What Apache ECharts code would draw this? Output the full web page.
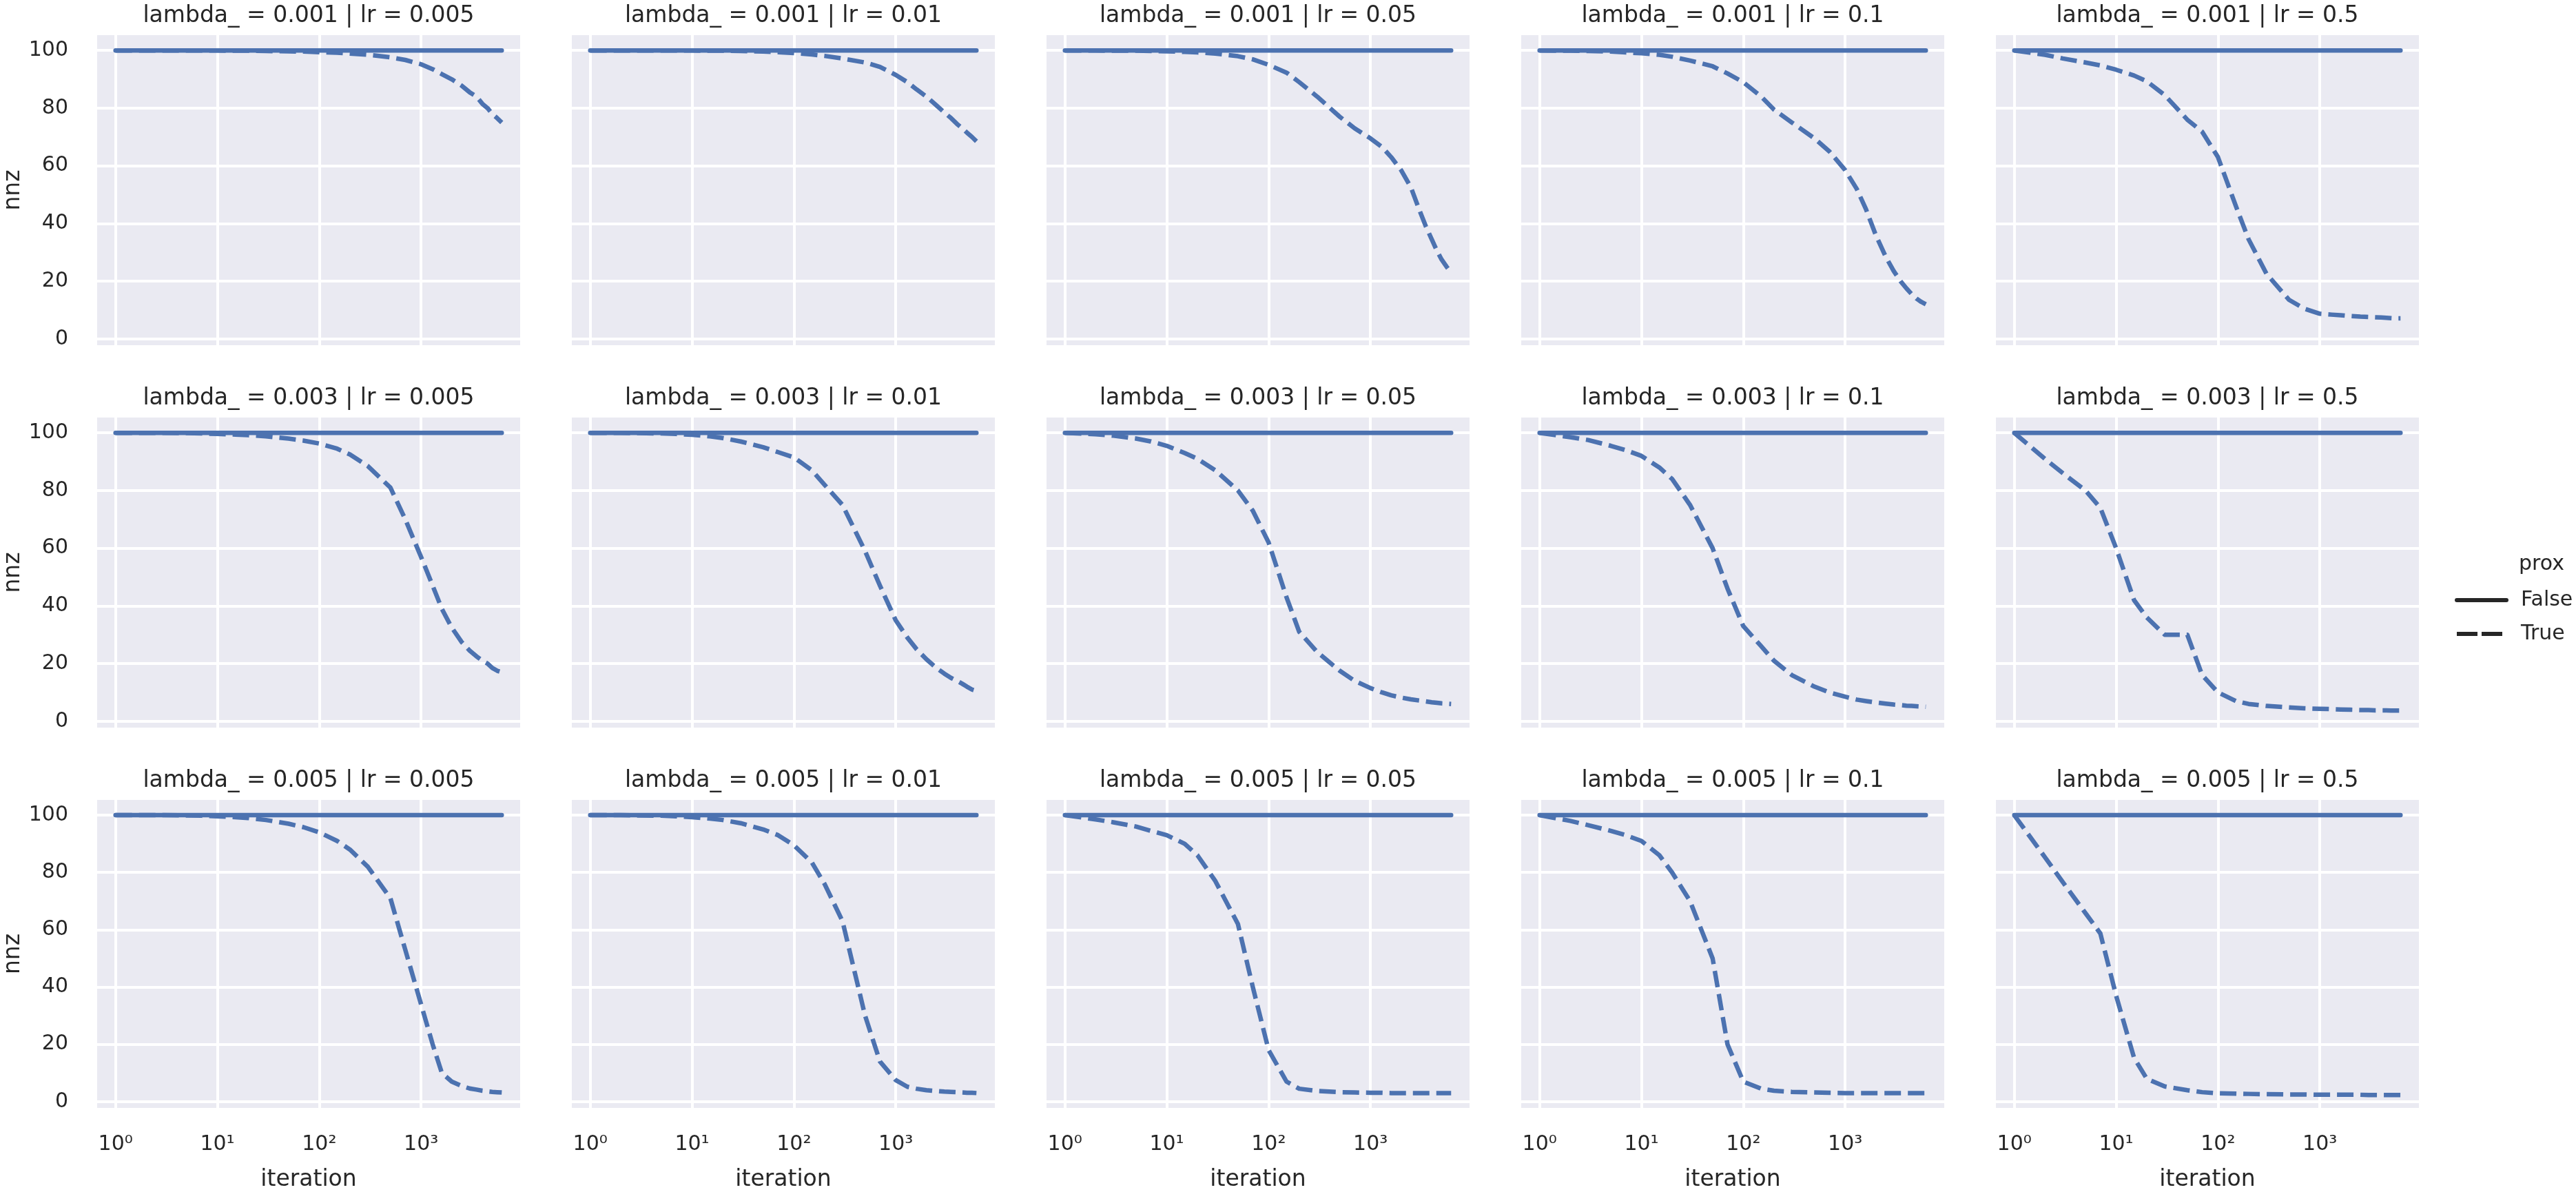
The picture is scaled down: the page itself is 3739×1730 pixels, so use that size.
<!DOCTYPE html>
<html>
<head>
<meta charset="utf-8">
<title>nnz vs iteration</title>
<script src="https://cdn.jsdelivr.net/npm/echarts@6/dist/echarts.min.js"></script>
<style>
  html, body { margin: 0; padding: 0; background: #fff; }
  #main { width: 3739px; height: 1730px; }
</style>
</head>
<body>
<div id="main"></div>
<script>
const iters = [1, 2, 3, 5, 7, 10, 15, 20, 30, 50, 70, 100, 150, 200, 300, 500, 700, 1000, 1300, 1600, 2000, 2500, 3000, 3500, 4000, 4500, 5000, 5600, 6200];

const lambdas = ['0.001', '0.003', '0.005'];
const lrs = ['0.005', '0.01', '0.05', '0.1', '0.5'];
const xTickExps = ['\u2070', '\u00b9', '\u00b2', '\u00b3'];

// prox = False : stays at 100 everywhere
const nnzFalse = [100, 100, 100, 100, 100, 100, 100, 100, 100, 100, 100, 100, 100, 100, 100, 100, 100, 100, 100, 100, 100, 100, 100, 100, 100, 100, 100, 100, 100];

// prox = True, one array per panel
const l001_lr0005 = [100, 100, 100, 100, 100, 100, 99.9, 99.9, 99.8, 99.7, 99.6, 99.4, 99.2, 98.9, 98.5, 97.6, 96.7, 95.2, 93.5, 91.8, 90, 87.8, 85.5, 84, 81.5, 80, 78, 76.5, 75];
const l001_lr001 = [100, 100, 100, 100, 100, 100, 99.9, 99.9, 99.8, 99.6, 99.4, 99.1, 98.6, 98.1, 97.2, 95.8, 94.3, 91.5, 89, 86.5, 84, 81, 78.5, 76.5, 74.5, 73, 71.5, 70, 68.5];
const l001_lr005 = [100, 100, 99.9, 99.9, 99.8, 99.7, 99.5, 99.3, 98.9, 98, 96.9, 95, 92.3, 89, 84, 77, 73, 69.5, 66.5, 63, 58.5, 52.5, 45, 39, 34.5, 30.5, 27.5, 25, 23];
const l001_lr01 = [100, 99.9, 99.8, 99.6, 99.3, 99, 98.5, 97.8, 96.5, 94.5, 92, 89, 84, 79.5, 75, 69.5, 65, 58.5, 52, 45, 36, 28.5, 23.5, 20, 17.5, 15.5, 14, 12.8, 12];
const l001_lr05 = [100, 98.5, 97.2, 95.8, 94.8, 93.3, 91.3, 89.3, 84.5, 76, 71.8, 63, 46, 34.5, 22.5, 13.5, 10.5, 8.7, 8.4, 8.2, 7.9, 7.7, 7.6, 7.5, 7.4, 7.3, 7.2, 7.1, 7.1];

const l003_lr0005 = [100, 100, 100, 99.9, 99.8, 99.6, 99.4, 99.2, 98.8, 98, 97.3, 96.3, 94.5, 92.5, 88.5, 81, 70, 57, 47, 39, 32.5, 27.5, 24.5, 22.5, 21, 20, 18.5, 17.5, 17];
const l003_lr001 = [100, 100, 99.9, 99.8, 99.6, 99.3, 98.8, 98.2, 97, 95, 93.3, 91.5, 87, 82, 75, 59, 47, 35, 29, 25, 21.5, 18.5, 16.5, 15, 14, 13, 12, 11, 10.5];
const l003_lr005 = [100, 99.5, 99, 98, 97, 95.5, 93, 91, 87, 80, 73, 62, 43, 31, 24, 17.5, 14, 11.5, 10, 9, 8.2, 7.6, 7.2, 6.9, 6.6, 6.4, 6.2, 6.1, 6];
const l003_lr01 = [100, 98.5, 97.5, 95.5, 94, 92, 88, 84, 75, 60, 46, 33, 26, 21, 16, 12, 10, 8.5, 7.5, 7, 6.5, 6.1, 5.8, 5.6, 5.4, 5.3, 5.2, 5.1, 5];
const l003_lr05 = [100, 91, 86, 80, 74, 60, 42, 36, 30, 30, 16, 10, 7, 6, 5.3, 4.8, 4.5, 4.3, 4.2, 4.1, 4, 3.9, 3.9, 3.8, 3.8, 3.8, 3.7, 3.7, 3.7];

const l005_lr0005 = [100, 100, 100, 99.9, 99.8, 99.6, 99.3, 99, 98.3, 97, 95.8, 94, 91, 88, 82, 71, 53, 34, 20, 10, 7, 5.5, 4.6, 4.2, 3.8, 3.6, 3.4, 3.3, 3.2];
const l005_lr001 = [100, 100, 99.9, 99.8, 99.6, 99.3, 98.8, 98.3, 97.2, 95, 93, 89.5, 83.5, 76, 63, 30, 14, 7.5, 5.2, 4.5, 4, 3.7, 3.5, 3.4, 3.3, 3.2, 3.1, 3.1, 3];
const l005_lr005 = [100, 98.5, 97.5, 96, 94.5, 93, 90, 86, 77, 62, 40, 18, 7, 4.5, 3.7, 3.3, 3.2, 3.1, 3.1, 3, 3, 3, 3, 3, 3, 3, 3, 3, 3];
const l005_lr01 = [100, 98, 96.5, 94.5, 93, 91, 86, 80, 70, 50, 20, 7, 4.5, 3.8, 3.4, 3.2, 3.1, 3, 3, 3, 3, 3, 3, 3, 3, 3, 3, 3, 3];
const l005_lr05 = [100, 85.3, 76.6, 65.8, 58.7, 37, 15.3, 8, 5.3, 4, 3.3, 2.9, 2.8, 2.7, 2.6, 2.5, 2.5, 2.4, 2.4, 2.4, 2.4, 2.4, 2.3, 2.3, 2.3, 2.3, 2.3, 2.3, 2.3];

const nnzTrue = [
  [l001_lr0005, l001_lr001, l001_lr005, l001_lr01, l001_lr05],
  [l003_lr0005, l003_lr001, l003_lr005, l003_lr01, l003_lr05],
  [l005_lr0005, l005_lr001, l005_lr005, l005_lr01, l005_lr05]
];

const blue = '#4C72B0';
const ink = '#262626';
const font = 'DejaVu Sans';

let grids = [], xAxes = [], yAxes = [], series = [], titles = [];

for (let r = 0; r < 3; r++) {
  for (let c = 0; c < 5; c++) {
    let k = r * 5 + c;
    let left = 141 + 689 * c;
    let top = 51 + 555 * r;
    grids.push({
      left: left, top: top, width: 614, height: 450,
      show: true, backgroundColor: '#EAEAF2', borderWidth: 0
    });
    titles.push({
      text: 'lambda_ = ' + lambdas[r] + ' | lr = ' + lrs[c],
      left: left + 307, top: 555 * r + 7, textAlign: 'center', padding: 0,
      textStyle: { fontFamily: font, fontSize: 33, fontWeight: 'normal', color: ink }
    });
    xAxes.push({
      gridIndex: k, type: 'log', logBase: 10, min: 0.66, max: 9400,
      axisLine: { show: false }, axisTick: { show: false },
      splitLine: { show: true, showMinLine: false, showMaxLine: false, lineStyle: { color: '#fff', width: 4 } },
      axisLabel: {
        show: r === 2, showMinLabel: false, showMaxLabel: false, margin: 38,
        fontFamily: font, fontSize: 30, color: ink,
        formatter: v => '10' + (xTickExps[Math.round(Math.log10(v))] || '')
      },
      name: r === 2 ? 'iteration' : '', nameLocation: 'middle', nameGap: 88,
      nameTextStyle: { fontFamily: font, fontSize: 33, color: ink }
    });
    yAxes.push({
      gridIndex: k, type: 'value', min: -2.2, max: 105.3, splitNumber: 5,
      axisLine: { show: false }, axisTick: { show: false },
      splitLine: { show: true, showMinLine: false, showMaxLine: false, lineStyle: { color: '#fff', width: 4 } },
      axisLabel: {
        show: c === 0, showMinLabel: false, showMaxLabel: false, margin: 42,
        fontFamily: font, fontSize: 30, color: ink
      },
      name: c === 0 ? 'nnz' : '', nameLocation: 'middle', nameRotate: 90, nameGap: 105,
      nameTextStyle: { fontFamily: font, fontSize: 33, color: ink }
    });
    series.push({
      name: 'True', type: 'line', xAxisIndex: k, yAxisIndex: k,
      data: iters.map((it, i) => [it, nnzTrue[r][c][i]]),
      symbol: 'none', color: blue,
      lineStyle: { color: blue, width: 6.5, type: [24, 10], cap: 'butt', join: 'round' }
    });
    series.push({
      name: 'False', type: 'line', xAxisIndex: k, yAxisIndex: k,
      data: iters.map((it, i) => [it, nnzFalse[i]]),
      symbol: 'none', color: blue,
      lineStyle: { color: blue, width: 6.5, type: 'solid', cap: 'round' }
    });
  }
}

titles.push({
  text: 'prox', left: 3656, top: 804, padding: 0,
  textStyle: { fontFamily: font, fontSize: 30, fontWeight: 'normal', color: ink }
});

let myChart = echarts.init(document.getElementById('main'));
myChart.setOption({
  animation: false,
  backgroundColor: '#fff',
  title: titles,
  legend: {
    orient: 'vertical', left: 3558, top: 851,
    itemWidth: 72, itemHeight: 30, itemGap: 19,
    textStyle: { fontFamily: font, fontSize: 30, color: ink, padding: [0, 0, 0, 16] },
    data: [
      { name: 'False', itemStyle: { opacity: 0 }, lineStyle: { color: ink, width: 6, type: 'solid', cap: 'round' } },
      { name: 'True', itemStyle: { opacity: 0 }, lineStyle: { color: ink, width: 6, type: [30, 6], cap: 'butt' } }
    ]
  },
  grid: grids,
  xAxis: xAxes,
  yAxis: yAxes,
  series: series
});
</script>
</body>
</html>
